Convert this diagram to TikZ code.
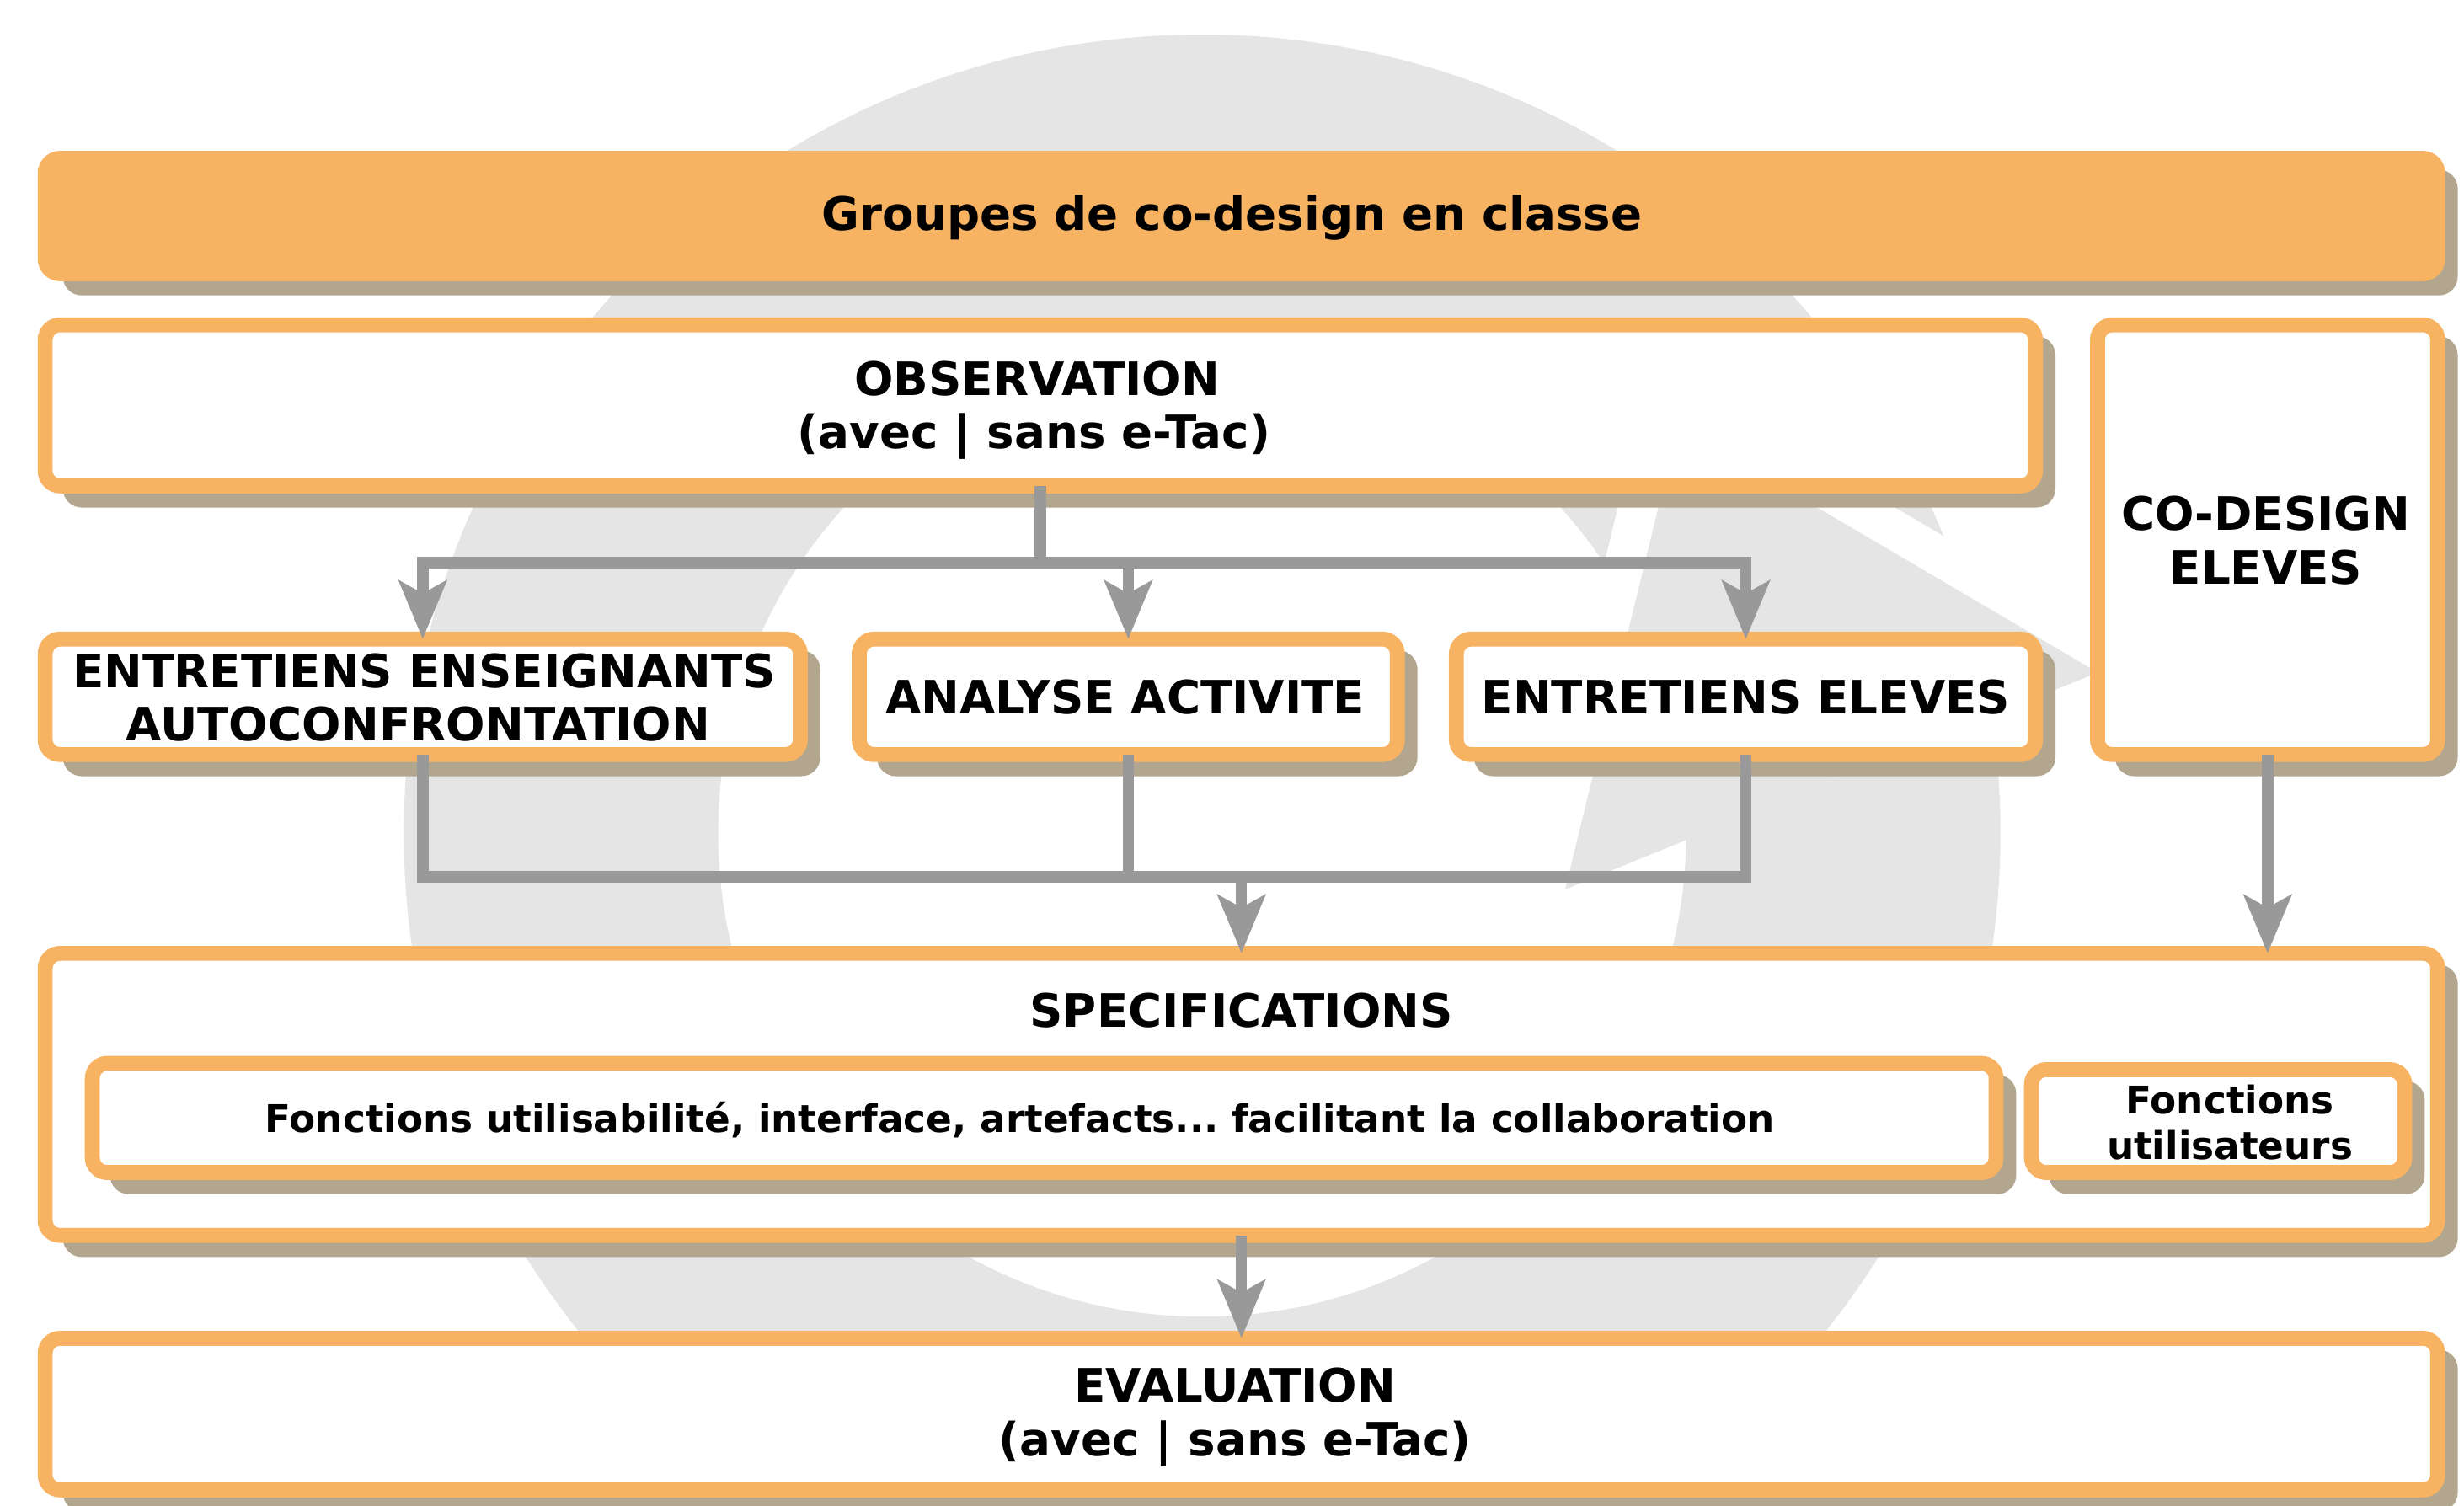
\documentclass[tikz,border=0pt]{standalone}
\usepackage{fontspec}
\setmainfont{DejaVu Sans}
\usetikzlibrary{arrows.meta}
\definecolor{orangec}{HTML}{F7B362}
\definecolor{shadowc}{HTML}{B3A68E}
\definecolor{ringc}{HTML}{E5E5E5}
\definecolor{connc}{HTML}{999999}
\newcommand\mkbox[6]{%
  \pgfmathsetmacro\mybw{#5-#3-9.5}\pgfmathsetmacro\mybh{#6-#4-9.5}%
  \pgfmathsetmacro\mybx{(#3+#5)/2}\pgfmathsetmacro\myby{(#4+#6)/2}%
  \fill[shadowc, rounded corners=12pt] (#3+16,#4+12) rectangle (#5+8,#6+9);
  \node[#1, minimum width=\mybw pt, minimum height=\mybh pt] (#2) at (\mybx,\myby) {};
}
\tikzset{
  obox/.style={shape=rectangle, fill=white, draw=orangec, line width=9.5pt, rounded corners=9.5pt, inner sep=0pt, outer sep=0pt},
  fbox/.style={obox, fill=orangec},
  lbl/.style={anchor=base, inner sep=0pt, font=\bfseries\fontsize{29.3}{34}\selectfont},
  slbl/.style={anchor=base, inner sep=0pt, font=\bfseries\fontsize{24.3}{29}\selectfont},
  conn/.style={draw=connc, line width=7.2pt, line join=miter},
  arr/.tip={Stealth[length=37pt, width=30pt, inset=8pt]}
}
\begin{document}
\frenchspacing
\begin{tikzpicture}[x=1pt, y=-1pt]
\useasboundingbox (0,0) rectangle (1568,958);
% background circular arrow
\fill[ringc, even odd rule] (765,530) circle[radius=508] (765,530) circle[radius=308];
\fill[white] (1051.7,232.4) -- (1364,416) -- (967.4,577.6) -- cycle;
\fill[ringc] (1068,271) -- (1335,428) -- (996,566) -- cycle;
% boxes
\mkbox{fbox}{grp}{24}{96}{1556}{179}
\mkbox{obox}{obs}{24}{202}{1300}{314}
\mkbox{obox}{cod}{1330}{202}{1556}{485}
\mkbox{obox}{ens}{24}{402}{514}{485}
\mkbox{obox}{ana}{542}{402}{894}{485}
\mkbox{obox}{eel}{922}{402}{1300}{485}
\mkbox{obox}{spec}{24}{602}{1556}{791}
\mkbox{obox}{fu}{54}{672}{1275}{751}
\mkbox{obox}{fn}{1288}{676}{1535}{751}
\mkbox{obox}{eval}{24}{847}{1556}{953}
% connectors
\coordinate (j1) at (662,358);
\coordinate (j2) at (790,558);
\draw[conn] (obs.south) -- (j1);
\draw[conn, arr-arr] (ens.north) |- (j1) -| (eel.north);
\draw[conn, -arr] (ana.north |- j1) -- (ana.north);
\draw[conn] (ens.south) |- (j2) -| (eel.south);
\draw[conn] (ana.south) -- (ana.south |- j2);
\draw[conn, -arr] (j2) -- (spec.north);
\draw[conn, -arr] (cod.south) -- (cod.south |- spec.north);
\draw[conn, -arr] (spec.south) -- (eval.north);
% texts
\node[lbl] (t-grp) at (784,146.5) {Groupes de co-design en classe};
\node[lbl] (t-obs1) at (660,251.5) {OBSERVATION};
\node[lbl] (t-obs2) at (658,285.5) {(avec | sans e-Tac)};
\node[lbl] (t-ens1) at (270,437.5) {ENTRETIENS ENSEIGNANTS};
\node[lbl] (t-ens2) at (266,471.5) {AUTOCONFRONTATION};
\node[lbl] (t-ana) at (716,454.5) {ANALYSE ACTIVITE};
\node[lbl] (t-eel) at (1111,454.5) {ENTRETIENS ELEVES};
\node[lbl] (t-cod1) at (1442,337.5) {CO-DESIGN};
\node[lbl] (t-cod2) at (1442,371.5) {ELEVES};
\node[lbl] (t-spec) at (790,653.5) {SPECIFICATIONS};
\node[slbl] (t-fu) at (649,720.8) {Fonctions utilisabilité, interface, artefacts... facilitant la collaboration};
\node[slbl] (t-fn1) at (1419,708.8) {Fonctions};
\node[slbl] (t-fn2) at (1419,738) {utilisateurs};
\node[lbl] (t-ev1) at (786,892.5) {EVALUATION};
\node[lbl] (t-ev2) at (786,926.5) {(avec | sans e-Tac)};
\end{tikzpicture}
\end{document}
